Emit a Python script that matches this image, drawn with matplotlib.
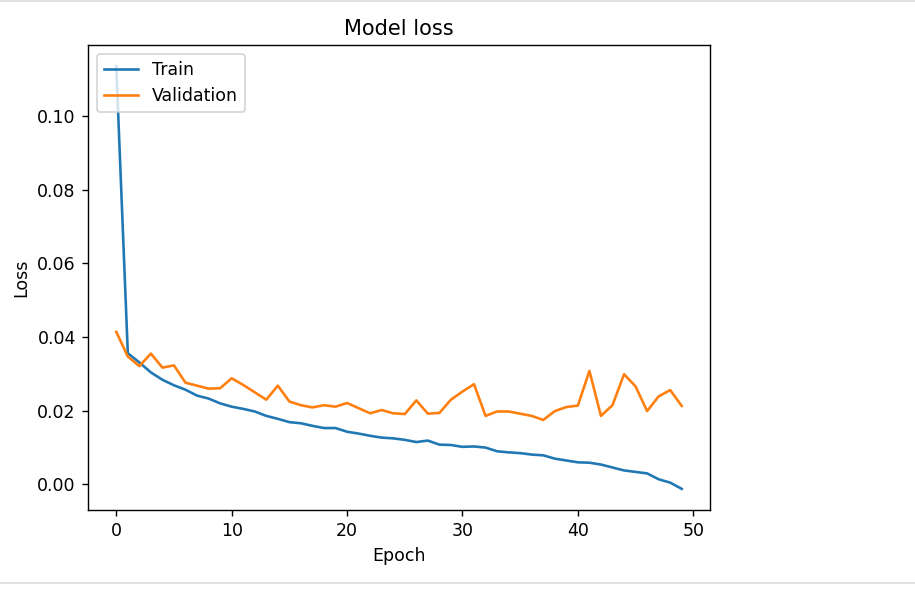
import matplotlib
matplotlib.use('Agg')
import matplotlib.pyplot as plt
from matplotlib.lines import Line2D

epochs = list(range(50))
train_loss = [0.1135, 0.0356, 0.0331, 0.0304, 0.0284, 0.0269, 0.0257, 0.0241, 0.0233, 0.0220,
              0.0211, 0.0205, 0.0198, 0.0186, 0.0178, 0.0169, 0.0166, 0.0159, 0.0153, 0.0153,
              0.0143, 0.0138, 0.0132, 0.0127, 0.0125, 0.0121, 0.0115, 0.0119, 0.0108, 0.0107,
              0.0102, 0.0103, 0.0100, 0.0090, 0.0087, 0.0085, 0.0081, 0.0079, 0.0070, 0.0065,
              0.0060, 0.0059, 0.0054, 0.0046, 0.0038, 0.0034, 0.0030, 0.0014, 0.0005, -0.0012]
val_loss = [0.0414, 0.0347, 0.0321, 0.0355, 0.0317, 0.0323, 0.0276, 0.0268, 0.0260, 0.0261,
            0.0288, 0.0270, 0.0250, 0.0230, 0.0268, 0.0225, 0.0215, 0.0209, 0.0215, 0.0211,
            0.0221, 0.0207, 0.0193, 0.0202, 0.0193, 0.0191, 0.0228, 0.0192, 0.0194, 0.0230,
            0.0252, 0.0272, 0.0186, 0.0198, 0.0198, 0.0192, 0.0186, 0.0175, 0.0199, 0.0210,
            0.0214, 0.0308, 0.0186, 0.0215, 0.0299, 0.0266, 0.0199, 0.0239, 0.0256, 0.0213]

# the screenshot is a default figure rendered at 125 dpi
DPI = 125
fig = plt.figure(figsize=(915 / DPI, 592 / DPI), dpi=DPI)
ax = fig.add_axes([88 / 915, 82 / 592, 622 / 915, 465 / 592])
ax.plot(epochs, train_loss, label='Train')
ax.plot(epochs, val_loss, label='Validation')
ax.set_title('Model loss')
ax.set_xlabel('Epoch')
ax.set_ylabel('Loss')
ax.legend(loc='upper left')

# notebook cell separators
fig.add_artist(Line2D([0, 1], [1 - 1 / 592, 1 - 1 / 592], color='#dcdde1', lw=1.0))
fig.add_artist(Line2D([0, 1], [9.5 / 592, 9.5 / 592], color='#dcdde1', lw=1.0))

fig.savefig('out.png', dpi=DPI)
